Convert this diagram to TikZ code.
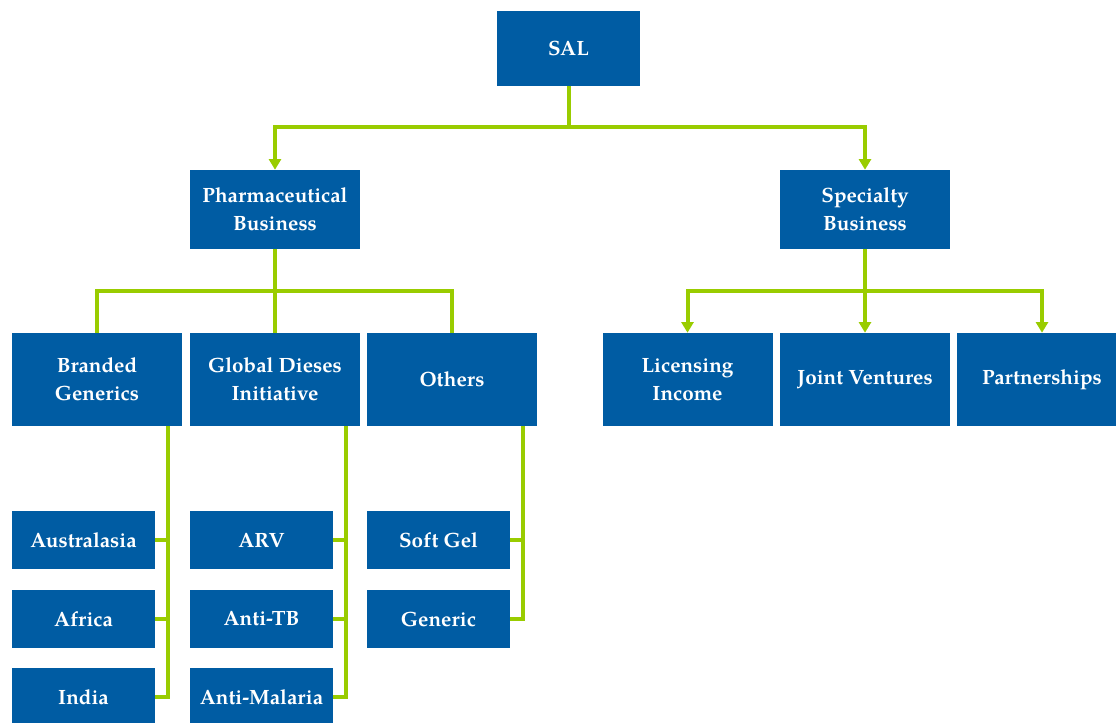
\documentclass[tikz,border=0pt]{standalone}
\usepackage{fontspec}
\setmainfont{TeX Gyre Pagella}
\usepackage{tikz}
\usetikzlibrary{arrows.meta}
\definecolor{salblue}{RGB}{0,92,163}
\definecolor{salgreen}{RGB}{153,204,0}

\tikzset{
  unit/.style={fill=salblue, text=white, align=center, inner sep=0pt,
    font=\fontsize{15.5}{21}\selectfont\bfseries},
  wide/.style={unit, minimum width=127.5pt},
  slim/.style={unit, minimum width=107.25pt},
  link/.style={draw=salgreen, line width=3pt},
  down/.style={link, -{Triangle[width=9pt, length=8pt]}}
}

\begin{document}
\begin{tikzpicture}[x=0.75pt, y=-0.75pt]
        \useasboundingbox (0,0) rectangle (1116,722);
        % top
        \node[slim, minimum height=56.25pt] (sal) at (568.5,48.5) {SAL};
        \node[wide, minimum height=59.25pt] (pharma) at (275,209.5) {Pharmaceutical\\Business};
        \node[wide, minimum height=59.25pt] (specialty) at (865,209.5) {Specialty\\Business};
        % second row
        \node[wide, minimum height=69.75pt] (branded) at (97,379.5) {Branded\\Generics};
        \node[wide, minimum height=69.75pt] (gdi) at (275,379.5) {Global Dieses\\Initiative};
        \node[wide, minimum height=69.75pt] (others) at (452,379.5) {Others};
        \node[wide, minimum height=69.75pt] (licensing) at (687.5,379.5) {Licensing\\Income};
        \node[wide, minimum height=69.75pt] (jv) at (865,379.5) {Joint Ventures};
        \node[wide, minimum height=69.75pt] (partner) at (1042,379.5) {Partnerships};
        % leaves
        \node[slim, minimum height=43.5pt] (austral) at (83.5,540) {Australasia};
        \node[slim, minimum height=43.5pt] (africa) at (83.5,619) {Africa};
        \node[slim, minimum height=43.5pt] (india) at (83.5,697) {India};
        \node[slim, minimum height=43.5pt] (arv) at (261.5,540) {ARV};
        \node[slim, minimum height=43.5pt] (antitb) at (261.5,619) {Anti-TB};
        \node[slim, minimum height=43.5pt] (antimal) at (261.5,697) {Anti-Malaria};
        \node[slim, minimum height=43.5pt] (softgel) at (438.5,540) {Soft Gel};
        \node[slim, minimum height=43.5pt] (generic) at (438.5,619) {Generic};

        % connectors
        \draw[down] (sal.south) -- (sal.south |- 0,127) -| (pharma.north);
        \draw[down] (sal.south |- 0,127) -| (specialty.north);
        \draw[link] (pharma.south) -- (gdi.north);
        \draw[link] (pharma.south |- 0,291) -| (branded.north);
        \draw[link] (pharma.south |- 0,291) -| (others.north);
        \draw[down] (specialty.south) -- (jv.north);
        \draw[down] (specialty.south |- 0,291) -| (licensing.north);
        \draw[down] (specialty.south |- 0,291) -| (partner.north);

        \draw[link] (branded.south -| 168,0) |- (india.east);
        \draw[link] (austral.east) -- (austral.east -| 168,0);
        \draw[link] (africa.east) -- (africa.east -| 168,0);
        \draw[link] (gdi.south -| 346,0) |- (antimal.east);
        \draw[link] (arv.east) -- (arv.east -| 346,0);
        \draw[link] (antitb.east) -- (antitb.east -| 346,0);
        \draw[link] (others.south -| 523,0) |- (generic.east);
        \draw[link] (softgel.east) -- (softgel.east -| 523,0);
      \end{tikzpicture}
\end{document}
